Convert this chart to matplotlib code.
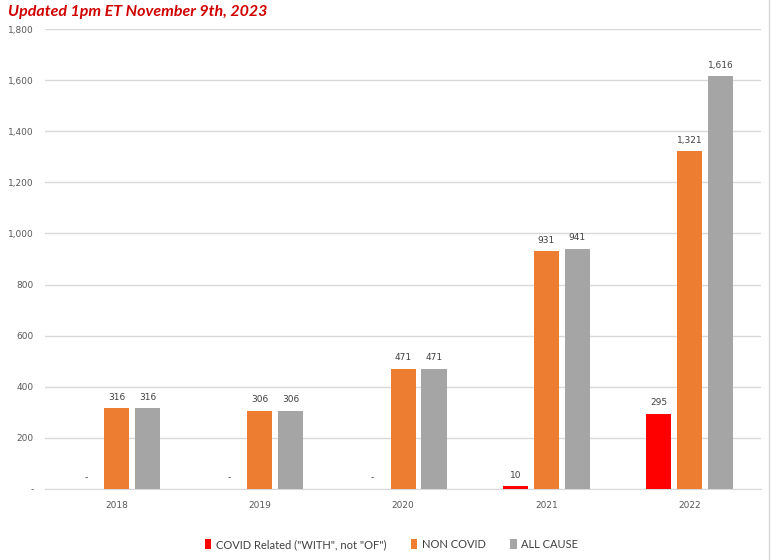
import numpy as np
import matplotlib.pyplot as plt
from matplotlib.lines import Line2D

years = ["2018", "2019", "2020", "2021", "2022"]
covid_related = [0, 0, 0, 10, 295]
non_covid = [316, 306, 471, 931, 1321]
all_cause = [316, 306, 471, 941, 1616]

series = [
    ('COVID Related ("WITH", not "OF")', covid_related, "#FF0000"),
    ("NON COVID", non_covid, "#ED7D31"),
    ("ALL CAUSE", all_cause, "#A5A5A5"),
]

fig = plt.figure(figsize=(7.83, 5.6), dpi=100)
ax = fig.add_axes([0.0575, 0.127, 0.9145, 0.821])

x = np.arange(len(years))
width = 0.175
offset = 0.216

for i, (name, vals, col) in enumerate(series):
    pos = x + (i - 1) * offset
    ax.bar(pos, vals, width, color=col, label=name, zorder=3)
    for p, v in zip(pos, vals):
        txt = f"{v:,}" if v else "-"
        ax.text(p, v + 25, txt, ha="center", va="bottom",
                fontsize=6.5, color="#404040")

ax.set_xlim(-0.5, len(years) - 0.5)
ax.set_ylim(0, 1800)
ax.set_yticks(range(0, 1801, 200))
ax.set_yticklabels(["-"] + [f"{t:,}" for t in range(200, 1801, 200)])
ax.set_xticks(x)
ax.set_xticklabels(years)
ax.tick_params(axis="both", length=0, labelsize=6.5, labelcolor="#595959")
ax.tick_params(axis="x", pad=9)
ax.tick_params(axis="y", pad=8)
ax.grid(axis="y", color="#D9D9D9", linewidth=1, zorder=0)
for s in ["top", "right", "left"]:
    ax.spines[s].set_visible(False)
ax.spines["bottom"].set_color("#D9D9D9")

fig.text(0.01, 0.978, "Updated 1pm ET November 9th, 2023", color="#D00000",
         fontsize=11.5, fontstyle="italic", fontweight="bold", family="Lato",
         ha="left", va="center")

fig.legend(loc="center", bbox_to_anchor=(0.5, 0.028), ncol=3, frameon=False,
           prop={"family": "Lato", "size": 8}, handlelength=0.6, handleheight=0.9,
           columnspacing=2.2, handletextpad=0.4, labelcolor="#404040")

fig.add_artist(Line2D([769 / 783, 769 / 783], [0, 1], color="#D9D9D9", linewidth=1))

fig.savefig("out.png", dpi=100)
